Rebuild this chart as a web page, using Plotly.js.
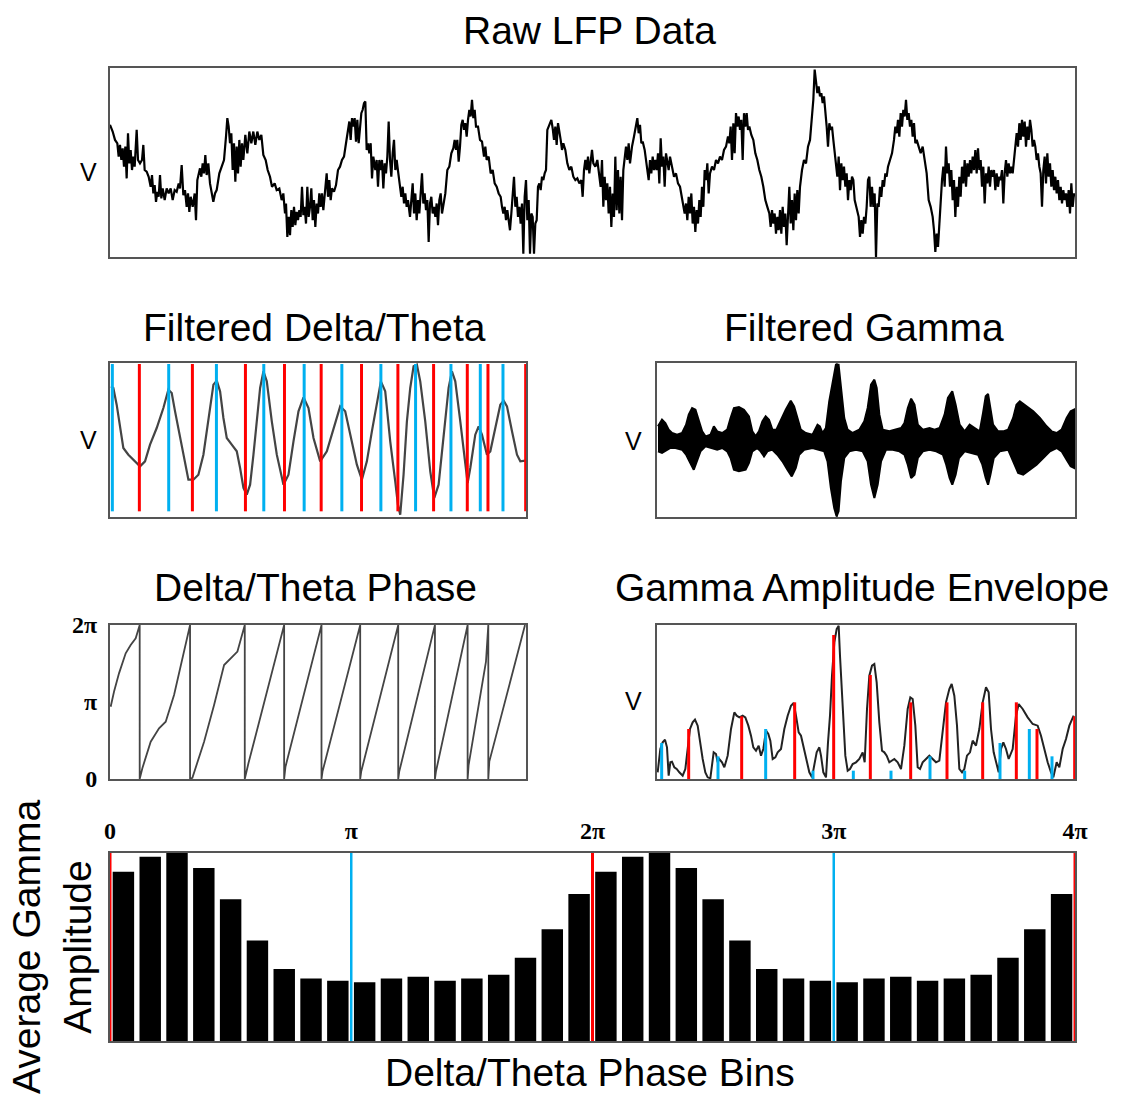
<!DOCTYPE html>
<html>
<head>
<meta charset="utf-8">
<script src="https://cdn.plot.ly/plotly-3.0.1.min.js"></script>
<style>html,body{margin:0;padding:0;background:#fff;} #chart{width:1126px;height:1101px;}</style>
</head>
<body>
<div id="chart"></div>
<script>
// ---------------- DATA ----------------
// Raw LFP (sample index, arbitrary voltage units)
const rawT = [0,8,15,22,26,30,34,38,42,46,50,54,58,62,66,70,74,80,84,90,96,100,104,110,116,122,126,130,134,138,142,146,150,154,158,164,170,176,182,188,194,200,206,210,215,220,225,230,234,238,242,248,254,258,262,266,270,274,278,282,286,290,295,300,305,310,315,320,328,335,342,348,352,356,360,364,368,372,376,380,384,388,392,396,400,406,412,418,424,430,436,442,448,454,460,467,473,480,486,494,500,508,515,520,525,528,532,536,540,544,548,552,556,560,564,568,572,576,580,584,588,592,596,600,604,608,612,616,620,624,628,632,636,640,646,650,654,658,662,666,672,678,684,690,696,702,708,714,718,722,726,730,734,738,742,746,750,754,758,762,766,770,774,778,782,786,790,796,800,804,808,812,816,820,824,828,832,836,840,844,848,852,856,860,865,870,874,878,882,886,890,894,900,904,908,912,916,920,924,928,932,936,940,944,948,952,956,960,964,968,972,976,980,984,988,992,996,1000,1006,1012,1018,1024,1030,1034,1038,1042,1046,1050,1054,1058,1062,1066,1070,1074,1078,1082,1086,1090,1094,1098,1104,1110,1116,1122,1126,1130,1136,1142,1148,1154,1160,1166,1172,1176,1180,1184,1188,1192,1196,1200,1204,1208,1212,1216,1220,1224,1228,1232,1236,1240,1244,1248,1252,1256,1260,1264,1268,1272,1276,1280,1284,1288,1292,1296,1300,1304,1308,1312,1316,1320,1324,1328,1332,1336,1340,1344,1348,1352,1356,1360,1366,1372,1378,1384,1390,1396,1402,1408,1414,1418,1422,1426,1430,1434,1438,1442,1446,1450,1456,1462,1472,1476,1480,1484,1488,1492,1496,1500,1504,1508,1512,1516,1520,1524,1528,1532,1536,1540,1544,1548,1552,1556,1560,1566,1572,1578,1582,1586,1590,1594,1598,1604,1610,1616,1620,1624,1628,1632,1636,1640,1644,1648,1652,1656,1660,1664,1668,1672,1676,1680,1686,1692,1698,1704,1710,1716,1720,1724,1728,1732,1736,1740,1744,1748,1752,1756,1760,1764,1768,1772,1776,1780,1784,1788,1792,1796,1800,1806,1812,1818,1824,1830,1836,1842,1848,1854,1858,1862,1866,1870,1874,1878,1882,1886,1890,1894,1898,1902,1906,1910,1914,1918,1924,1930,1936,1942,1948,1954,1960,1966,1972,1978,1982,1986,1990,1994,1998,2002,2006,2010,2014,2018,2022,2026,2030,2034,2038,2042,2046,2050,2054,2058,2062,2066,2070,2076,2082,2088,2094,2100,2106,2110,2114,2118,2122,2126,2130,2134,2138,2142,2146,2150,2154,2158,2162,2166,2170,2176,2182,2186,2190,2194,2198,2202,2206,2210,2214,2218,2222,2226,2230,2234,2238,2242,2246,2250,2254,2258,2262,2266,2270,2274,2278,2282,2286,2290,2294,2298,2302,2306,2310,2314,2318,2322,2326,2330,2334,2340,2346,2352,2356,2360,2364,2368,2372,2376,2380,2384,2388,2392,2396,2400,2404,2408,2412,2416,2420,2426,2432,2438,2444,2450,2456,2462,2468,2472,2476,2480,2484,2488,2492,2496,2500,2504,2508,2512,2516,2520,2524,2528,2532,2536,2540,2544,2548,2552,2556,2560,2564,2568,2572,2576,2580,2584,2588,2592,2596,2600,2604,2608,2612,2616,2620,2624,2628,2632,2636,2640,2644,2648,2652,2656,2660,2664,2668,2672,2676,2680,2684,2688,2692,2696,2700,2704,2708,2712,2716,2720,2724,2728,2732,2736,2740,2744,2748,2752,2756,2760,2764,2768,2772,2776,2780,2784,2788,2792,2796,2800,2804,2808,2812,2816,2820,2824,2828,2832,2836,2840,2844,2848,2852,2856,2860,2864,2868,2872,2876,2880,2884,2888,2892,2895];
const rawV = [395,375,350,340,300,335,290,325,270,330,235,370,280,320,260,300,270,380,290,280,290,335,260,255,240,210,245,190,215,165,195,180,245,175,205,170,205,190,205,170,200,195,220,205,275,185,200,150,190,135,180,150,190,110,230,250,265,240,280,250,305,245,280,220,190,165,190,200,250,270,290,360,415,390,340,370,260,340,225,330,250,350,270,340,290,365,310,375,340,375,335,375,350,365,305,290,260,240,210,220,200,205,170,190,130,160,60,120,65,140,90,150,95,135,110,140,120,210,125,150,100,210,120,150,205,110,170,90,160,130,190,150,190,140,210,250,180,230,170,205,195,215,260,270,290,300,340,375,405,350,415,390,415,345,410,340,400,430,440,460,465,320,340,310,340,235,300,260,290,210,290,260,290,205,280,250,300,405,290,240,310,350,260,290,250,210,180,210,160,190,150,170,120,170,220,130,190,110,170,130,190,250,160,190,140,170,45,160,180,130,150,120,160,95,170,190,130,150,190,260,270,310,325,350,320,350,285,330,395,410,380,400,360,410,440,420,470,415,440,390,390,350,345,300,330,290,300,250,260,220,210,190,180,150,130,150,110,140,100,80,130,190,240,150,180,120,150,100,160,10,180,230,110,170,10,130,120,10,100,110,210,220,200,240,230,250,260,380,390,400,410,385,350,390,335,400,380,350,320,340,320,280,260,270,240,230,235,220,230,180,260,290,260,300,250,290,320,280,270,290,210,290,150,240,170,220,130,210,90,190,120,300,140,260,130,240,110,260,300,330,290,340,280,330,360,390,415,370,395,340,345,320,270,230,290,250,300,260,290,260,310,220,355,270,300,210,310,290,260,300,270,240,250,220,210,180,150,130,160,110,180,130,190,100,150,75,140,100,170,120,210,150,260,230,280,190,250,270,260,290,280,300,290,320,330,360,340,390,290,400,310,430,390,420,380,410,290,430,390,430,380,390,365,350,310,290,260,240,210,170,150,130,90,140,100,130,70,120,80,140,70,150,90,130,35,120,210,100,170,80,190,110,200,130,210,260,290,280,330,350,410,470,560,530,490,510,480,490,460,480,440,390,330,400,380,390,350,290,240,300,200,280,230,270,210,250,170,230,200,240,230,170,150,130,120,60,110,70,120,100,150,230,240,150,210,150,190,0,160,150,210,180,230,210,250,240,270,290,310,350,390,370,410,360,430,390,440,420,470,410,430,390,410,360,400,340,350,330,310,330,290,250,170,150,120,80,15,70,30,110,170,230,270,210,330,250,280,210,260,170,230,120,210,150,240,180,270,220,290,210,280,240,290,250,300,260,320,250,325,260,290,210,270,160,250,220,270,210,260,240,260,200,250,210,240,230,260,160,250,290,240,280,250,270,250,290,340,370,330,400,350,410,360,405,330,390,350,410,380,330,350,330,290,310,270,250,150,260,300,220,310,240,280,210,260,200,240,190,230,170,210,160,200,170,190,150,200,130,220,150,190,180];

// Filtered delta/theta (sample index, arbitrary units)
const deltaT = [3,10,20,30,40,55,70,90,105,120,140,160,175,185,195,210,225,235,250,265,280,295,310,320,330,340,350,365,380,390,400,410,420,430,440,450,460,470,485,500,520,535,550,565,580,595,610,630,650,670,690,705,720,740,755,770,785,800,812,825,840,855,863,870,880,890,900,910,920,930,945,960,972,985,1000,1015,1025,1035,1050,1065,1072,1080,1095,1105,1115,1130,1140,1155,1170,1180,1190,1205,1220,1230,1245];
const deltaV = [392,387,337,267,207,187,172,152,167,217,267,327,382,372,317,237,157,112,112,127,187,287,397,409,377,297,237,217,197,147,87,67,97,187,287,387,437,407,287,187,97,127,227,317,359,327,237,167,197,267,332,317,247,157,112,167,257,347,407,377,227,107,37,7,127,287,387,452,457,407,287,137,57,97,237,387,437,407,287,157,102,147,247,272,247,187,197,267,337,349,332,257,187,167,169];

// Times of delta/theta troughs (phase 0 / 2pi, red) and peaks (phase pi, blue)
const troughT = [88,247,406,523,633,754,863,970,1071,1133,1246];
const peakT   = [7,176,319,461,582,695,812,916,1022,1110,1178];

// Filtered gamma: upper and lower edges of the oscillation
const gammaUpT = [-2,10,20,30,40,55,70,82,90,100,110,120,130,140,155,165,175,190,205,215,225,240,255,270,280,290,300,310,320,330,340,352,365,380,395,405,415,425,440,460,475,482,490,500,510,520,530,538,545,555,565,580,600,615,625,635,645,652,660,670,690,710,725,735,745,755,765,775,790,810,825,840,855,865,878,888,900,915,930,945,960,970,978,985,992,1000,1015,1030,1045,1060,1070,1080,1100,1120,1140,1160,1175,1190,1205,1220,1232,1242];
const gammaUp  = [40,60,50,30,20,15,20,45,75,95,90,60,25,10,15,40,25,20,30,65,95,98,90,70,25,10,25,55,70,60,30,30,60,90,117,100,65,30,20,15,45,40,20,35,115,175,225,225,155,65,30,20,30,55,95,165,180,155,75,30,25,30,35,50,95,123,105,45,30,35,30,35,75,125,145,105,45,25,45,35,25,80,130,137,95,45,25,25,30,65,105,115,100,85,65,40,25,20,30,65,85,90];
const gammaLoT = [-2,10,20,35,50,70,82,92,105,115,125,140,160,175,190,205,215,225,240,260,270,280,295,305,315,325,340,355,370,385,398,410,420,435,460,480,495,505,515,525,532,538,545,555,570,590,610,625,635,645,655,665,680,700,720,735,745,755,765,775,790,810,830,850,860,870,878,888,898,915,935,955,968,978,985,992,1002,1020,1045,1060,1075,1090,1110,1130,1150,1170,1190,1205,1220,1232,1242];
const gammaLo  = [-35,-40,-35,-25,-25,-30,-45,-65,-90,-65,-35,-20,-25,-30,-25,-35,-55,-90,-95,-90,-70,-35,-25,-35,-50,-35,-30,-45,-65,-90,-110,-85,-45,-30,-25,-30,-35,-65,-145,-205,-230,-215,-125,-55,-35,-30,-35,-65,-135,-175,-135,-65,-30,-30,-35,-45,-75,-115,-105,-55,-35,-30,-35,-45,-75,-115,-135,-105,-55,-35,-40,-45,-75,-115,-135,-105,-55,-35,-30,-65,-100,-105,-90,-75,-55,-35,-25,-35,-60,-80,-85];

// Delta/theta phase (radians)
const phaseT = [0,10,25,45,60,75,87,87,95,120,145,165,190,215,238,238,245,280,310,340,355,380,402,402,413,520,520,524,632,632,635,748,748,751,862,862,865,972,972,975,1070,1070,1073,1125,1132,1132,1135,1242];
const phaseV = [2.95,3.56,4.31,5.13,5.47,5.74,6.28,0,0.44,1.52,2.07,2.34,3.43,4.92,6.28,0,0.05,1.52,3.02,4.65,4.86,5.20,6.28,0,0.64,6.28,0,0.50,6.28,0,0.30,6.28,0,0.30,6.28,0,0.30,6.28,0,0.30,6.28,0,0.57,4.79,6.28,0,0.71,6.28];

// Gamma amplitude envelope
const envT = [-5,3,10,17,23,28,33,38,45,52,60,70,78,85,92,100,107,115,122,130,138,145,153,158,163,170,175,180,188,195,205,215,225,232,240,250,258,267,275,282,290,298,305,312,320,327,333,340,348,355,365,375,385,395,403,410,418,425,432,440,450,458,465,472,480,485,492,500,506,512,518,525,532,538,542,550,558,565,572,580,590,600,610,616,623,630,638,645,652,660,668,675,682,690,698,705,715,725,735,745,753,760,768,775,782,790,800,810,820,830,840,850,860,870,877,885,893,900,908,915,923,932,940,950,960,970,980,988,995,1003,1010,1018,1025,1032,1040,1048,1060,1070,1078,1090,1105,1120,1135,1145,1155,1165,1175,1182,1192,1200,1210,1220,1230,1243];
const envV = [20,90,110,118,95,10,50,52,35,30,20,10,30,90,150,170,178,160,110,60,20,5,2,50,80,75,50,60,50,35,70,150,200,190,185,190,185,160,130,95,85,100,70,90,145,135,115,60,65,80,90,150,190,220,228,190,140,130,100,60,20,5,40,80,95,70,20,5,110,190,310,410,450,460,370,220,70,25,30,45,50,60,80,50,210,310,340,345,290,170,85,80,70,50,55,60,50,30,100,210,245,240,160,35,30,50,60,70,60,50,55,140,230,270,285,250,160,30,20,30,70,80,115,100,150,230,275,260,150,80,50,20,90,110,90,60,90,190,225,210,185,165,160,130,90,50,20,5,50,35,90,120,160,190];
// Envelope value at each trough (red) and peak (blue) time
const troughAmp = [150,188,230,432,312,230,230,230,230,150,188];
const peakAmp   = [108,68,150,25,25,25,68,25,108,150,68];

// Phase-binned average gamma amplitude (20-degree bins over two cycles)
const binDeg = [10,30,50,70,90,110,130,150,170,190,210,230,250,270,290,310,330,350,370,390,410,430,450,470,490,510,530,550,570,590,610,630,650,670,690,710];
const binAmp = [0.90,0.98,1.00,0.92,0.754,0.534,0.383,0.333,0.321,0.312,0.333,0.342,0.321,0.333,0.353,0.443,0.594,0.782,
                0.90,0.98,1.00,0.92,0.754,0.534,0.383,0.333,0.321,0.312,0.333,0.342,0.321,0.333,0.353,0.443,0.594,0.782];
const zeroPhaseDeg = [0,360,720];
const piPhaseDeg = [180,540];
const phaseTickVals = [0,180,360,540,720];
const phaseTickText = ['0','π','2π','3π','4π'];

// ---------------- LAYOUT ----------------
const W = 1126, H = 1101;
const RED = '#ff0000', BLUE = '#00b0f0';
const dx = (a,b) => [a/W, b/W];
const dy = (t,b) => [1-b/H, 1-t/H];
const base = {showline:true, mirror:true, linecolor:'#555', linewidth:2, showgrid:false, zeroline:false,
              showticklabels:false, ticks:'', fixedrange:true};
const ax = (o) => Object.assign({}, base, o);

function vlines(xs, lo, hi) {
  const x = [], y = [];
  xs.forEach((v,i) => {
    x.push(v, v, null);
    y.push(Array.isArray(lo) ? lo[i] : lo, Array.isArray(hi) ? hi[i] : hi, null);
  });
  return {x, y};
}

const traces = [];
traces.push({x: rawT, y: rawV, xaxis:'x', yaxis:'y', mode:'lines', line:{color:'#000', width:2.2}});
traces.push({x: deltaT, y: deltaV, xaxis:'x2', yaxis:'y2', mode:'lines', line:{color:'#444', width:2.2}});
let L = vlines(troughT, 17, 459);
traces.push({x:L.x, y:L.y, xaxis:'x2', yaxis:'y2', mode:'lines', line:{color:RED, width:3}});
L = vlines(peakT, 17, 459);
traces.push({x:L.x, y:L.y, xaxis:'x2', yaxis:'y2', mode:'lines', line:{color:BLUE, width:3}});

traces.push({x: gammaUpT.concat(gammaLoT.slice().reverse()), y: gammaUp.concat(gammaLo.slice().reverse()),
             xaxis:'x3', yaxis:'y3', mode:'lines', fill:'toself', fillcolor:'#000', line:{color:'#000', width:2}});
// thin spike of the largest burst
traces.push({x: [533,533], y: [229,-231], xaxis:'x3', yaxis:'y3', mode:'lines', line:{color:'#000', width:1.5}});

traces.push({x: phaseT, y: phaseV, xaxis:'x4', yaxis:'y4', mode:'lines', line:{color:'#444', width:1.8}});

traces.push({x: envT, y: envV, xaxis:'x5', yaxis:'y5', mode:'lines', line:{color:'#222', width:2}});
L = vlines(troughT, 0, troughAmp);
traces.push({x:L.x, y:L.y, xaxis:'x5', yaxis:'y5', mode:'lines', line:{color:RED, width:3}});
L = vlines(peakT, 0, peakAmp);
traces.push({x:L.x, y:L.y, xaxis:'x5', yaxis:'y5', mode:'lines', line:{color:BLUE, width:3}});

traces.push({type:'bar', x: binDeg, y: binAmp, xaxis:'x6', yaxis:'y6', marker:{color:'#000', line:{width:0}}});
L = vlines(zeroPhaseDeg, 0, 1);
traces.push({x:L.x, y:L.y, xaxis:'x6', yaxis:'y6', mode:'lines', line:{color:RED, width:3}});
L = vlines(piPhaseDeg, 0, 1);
traces.push({x:L.x, y:L.y, xaxis:'x6', yaxis:'y6', mode:'lines', line:{color:BLUE, width:2.5}});

const SANS = 'Liberation Sans, Arial, sans-serif';
const SERIF = 'Liberation Serif, Times New Roman, serif';
const TFS = 39;
function ann(text, px, py, size, extra) {
  return Object.assign({text, x: px/W, y: 1-py/H, xref:'paper', yref:'paper', showarrow:false,
    xanchor:'center', yanchor:'middle', font:{family:SANS, size:size, color:'#000'}}, extra || {});
}

const layout = {
  width: W, height: H, margin:{l:0, r:0, t:0, b:0}, showlegend:false, hovermode:false,
  paper_bgcolor:'#fff', plot_bgcolor:'#fff', bargap:0.2,
  xaxis:  ax({domain: dx(110,1075), range:[0,2895], anchor:'y'}),
  yaxis:  ax({domain: dy(68,257), range:[0,565], anchor:'x'}),
  xaxis2: ax({domain: dx(110,526), range:[0,1247], anchor:'y2'}),
  yaxis2: ax({domain: dy(363,517), range:[0,462], anchor:'x2'}),
  xaxis3: ax({domain: dx(657,1075), range:[-5,1245], anchor:'y3'}),
  yaxis3: ax({domain: dy(363,517), range:[-232,230], anchor:'x3'}),
  xaxis4: ax({domain: dx(110,526), range:[-2,1245], anchor:'y4'}),
  yaxis4: ax({domain: dy(625,779), range:[0,2*Math.PI], anchor:'x4', showticklabels:true,
              tickmode:'array', tickvals:[0, Math.PI, 2*Math.PI], ticktext:['<b>0</b>','<b>π</b>','<b>2π</b>'],
              tickfont:{family:SERIF, size:24, color:'#000'}, ticklabelstandoff:6}),
  xaxis5: ax({domain: dx(657,1075), range:[-7,1247], anchor:'y5'}),
  yaxis5: ax({domain: dy(625,779), range:[0,462], anchor:'x5'}),
  xaxis6: ax({domain: dx(110,1075), range:[0,720], anchor:'y6', side:'top', showticklabels:true,
              tickmode:'array', tickvals:phaseTickVals, ticktext:phaseTickText.map(t => '<b>'+t+'</b>'),
              tickfont:{family:SERIF, size:24, color:'#000'}, ticklabelstandoff:2}),
  yaxis6: ax({domain: dy(853,1041), range:[0,1], anchor:'x6'}),
  annotations: [
    ann('Raw LFP Data', 589, 31, TFS),
    ann('Filtered Delta/Theta', 314, 327, TFS),
    ann('Filtered Gamma', 864, 327, TFS),
    ann('Delta/Theta Phase', 315, 587, TFS),
    ann('Gamma Amplitude Envelope', 862, 587, TFS),
    ann('Delta/Theta Phase Bins', 590, 1072, TFS),
    ann('Average Gamma<br>Amplitude', 52, 947, TFS, {textangle:-90}),
    ann('V', 88, 172, 25),
    ann('V', 88, 440, 25),
    ann('V', 633, 441, 25),
    ann('V', 633, 701, 25)
  ]
};

Plotly.newPlot('chart', traces, layout, {staticPlot:true, displayModeBar:false});
</script>
</body>
</html>
